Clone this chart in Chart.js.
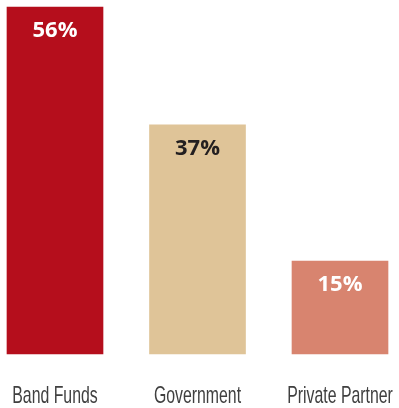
<!DOCTYPE html>
<html>
<head>
<meta charset="utf-8">
<script src="https://cdn.jsdelivr.net/npm/chart.js@4"></script>
<style>
    html, body { margin: 0; padding: 0; background: #fff; }
    .chart-box { width: 399px; height: 408px; }
</style>
</head>
<body>
<div class="chart-box"><canvas id="fundingChart"></canvas></div>
<script>
const categories = ["Band Funds", "Government", "Private Partner"];
const shares = [56, 37, 15];
const barColors = ["#b50e1c", "#dfc498", "#d8846f"];
const valueColors = ["#ffffff", "#231f20", "#ffffff"];

// percent labels inside the top of each bar
const valueLabels = {
    id: "valueLabels",
    afterDatasetsDraw(chart) {
        const ctx = chart.ctx;
        const meta = chart.getDatasetMeta(0);
        ctx.save();
        ctx.font = "bold 22px 'Open Sans', sans-serif";
        ctx.textAlign = "center";
        ctx.textBaseline = "middle";
        meta.data.forEach(function (bar, i) {
            ctx.fillStyle = valueColors[i];
            ctx.fillText(shares[i] + "%", bar.x, bar.y + 24);
        });
        ctx.restore();
    }
};

// category names under the bars, squeezed to look like a condensed face
const categoryLabels = {
    id: "categoryLabels",
    afterDraw(chart) {
        const ctx = chart.ctx;
        const xScale = chart.scales.x;
        ctx.save();
        ctx.font = "24px 'Liberation Sans', Arial, sans-serif";
        ctx.fillStyle = "#404040";
        ctx.textAlign = "center";
        ctx.textBaseline = "alphabetic";
        categories.forEach(function (name, i) {
            ctx.save();
            ctx.translate(xScale.getPixelForValue(i), chart.chartArea.bottom + 49);
            ctx.scale(0.66, 1);
            ctx.fillText(name, 0, 0);
            ctx.restore();
        });
        ctx.restore();
    }
};

new Chart(document.getElementById("fundingChart"), {
    type: "bar",
    data: {
        labels: categories,
        datasets: [{
            data: shares,
            backgroundColor: barColors,
            borderWidth: 0,
            barThickness: 96,
            clip: false
        }]
    },
    options: {
        responsive: true,
        maintainAspectRatio: false,
        animation: false,
        layout: { padding: { top: 7, left: 55, right: 59, bottom: 54 } },
        plugins: {
            legend: { display: false },
            tooltip: { enabled: false }
        },
        scales: {
            x: {
                offset: false,
                grid: { display: false, drawTicks: false },
                border: { display: false },
                ticks: { display: false }
            },
            y: {
                display: false,
                min: 0,
                max: 56
            }
        }
    },
    plugins: [valueLabels, categoryLabels]
});
</script>
</body>
</html>
